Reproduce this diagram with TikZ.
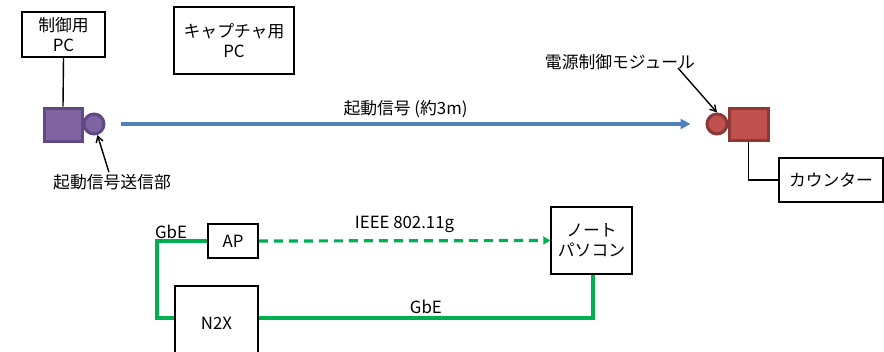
\documentclass[tikz,border=0pt]{standalone}
\usepackage{fontspec}
\setmainfont{Noto Sans CJK JP}
\usetikzlibrary{arrows.meta}
\definecolor{purfill}{HTML}{8064A2}
\definecolor{purdraw}{HTML}{5F4A85}
\definecolor{redfill}{HTML}{C0504D}
\definecolor{reddraw}{HTML}{8C3836}
\definecolor{bluel}{HTML}{4F81BD}
\definecolor{greenl}{HTML}{00B050}
\begin{document}
\begin{tikzpicture}[x=1pt,y=-1pt,
  every node/.style={font=\fontsize{16.8}{20}\selectfont, inner sep=0pt},
  box/.style={draw=black, line width=1.5pt, fill=white, align=center},
  psqs/.style={draw=purdraw, fill=purfill, line width=3pt},
  pcirs/.style={circle, draw=purdraw, fill=purfill, line width=3pt},
  rsqs/.style={draw=reddraw, fill=redfill, line width=3pt},
  rcirs/.style={circle, draw=reddraw, fill=redfill, line width=3pt},
  wire/.style={draw=black, line width=1.4pt},
  annot/.style={draw=black, line width=1.4pt, -{Straight Barb[length=6pt,width=7pt]}},
  gline/.style={draw=greenl, line width=3.2pt},
  bline/.style={draw=bluel, line width=3.2pt, -{Triangle[length=10pt,width=10pt]}},
]
\useasboundingbox (0,0) rectangle (884,351);
\fill[white] (0,0) rectangle (884,351);
\begin{scope}
\clip (0,0) rectangle (884,351);
% boxes
\node[box, minimum width=83pt, minimum height=45pt] (ctrl) at (63.5,34.5) {制御用\\PC};
\node[box, minimum width=120pt, minimum height=67pt] (cap) at (234,40.5) {キャプチャ用\\PC};
\node[box, minimum width=104pt, minimum height=44pt] (counter) at (831,180) {カウンター};
\node[box, minimum width=50pt, minimum height=34pt] (ap) at (233,241) {AP};
\node[box, minimum width=83pt, minimum height=74pt] (n2x) at (216.5,323) {N2X};
\node[box, minimum width=81pt, minimum height=67pt] (note) at (591.5,240.5) {ノート\\パソコン};
% modules
\node[psqs, minimum width=38pt, minimum height=33pt] (psq) at (63,124.5) {};
\node[pcirs, minimum size=20pt] (pcir) at (94,124) {};
\node[rsqs, minimum width=39pt, minimum height=32pt] (rsq) at (748.5,124) {};
\node[rcirs, minimum size=20pt] (rcir) at (717,124) {};
% labels
\node (lbl1) at (112,182) {起動信号送信部};
\node (lbl2) at (620,62) {電源制御モジュール};
\coordinate (a2) at (678,68);
% connectors
\draw[wire] (ctrl.south) -- (psq.north);
\draw[wire] (rsq.south) |- (counter.west);
\draw[annot, shorten <=2pt] (lbl1) -- (pcir);
\draw[annot] (a2) -- (rcir.north);
\draw[bline, shorten <=15pt, shorten >=15pt] (pcir.east) -- node[above=5pt] {起動信号 (約3m)} (rcir.west);
\draw[gline] (ap.west) -- (157,241) -- (157,318) -- (n2x.west |- 157,318);
\node at (171,232) {GbE};
\draw[gline, dashed, dash pattern=on 9pt off 6pt, -{Triangle[length=7pt,width=8pt]}] (ap.east) -- node[above=6pt] {IEEE 802.11g} (note.west);
\draw[gline] (n2x.east |- 0,318) -- node[above=3pt] {GbE} (593,318) -- (note.south -| 593,0);
\end{scope}
\end{tikzpicture}
\end{document}
